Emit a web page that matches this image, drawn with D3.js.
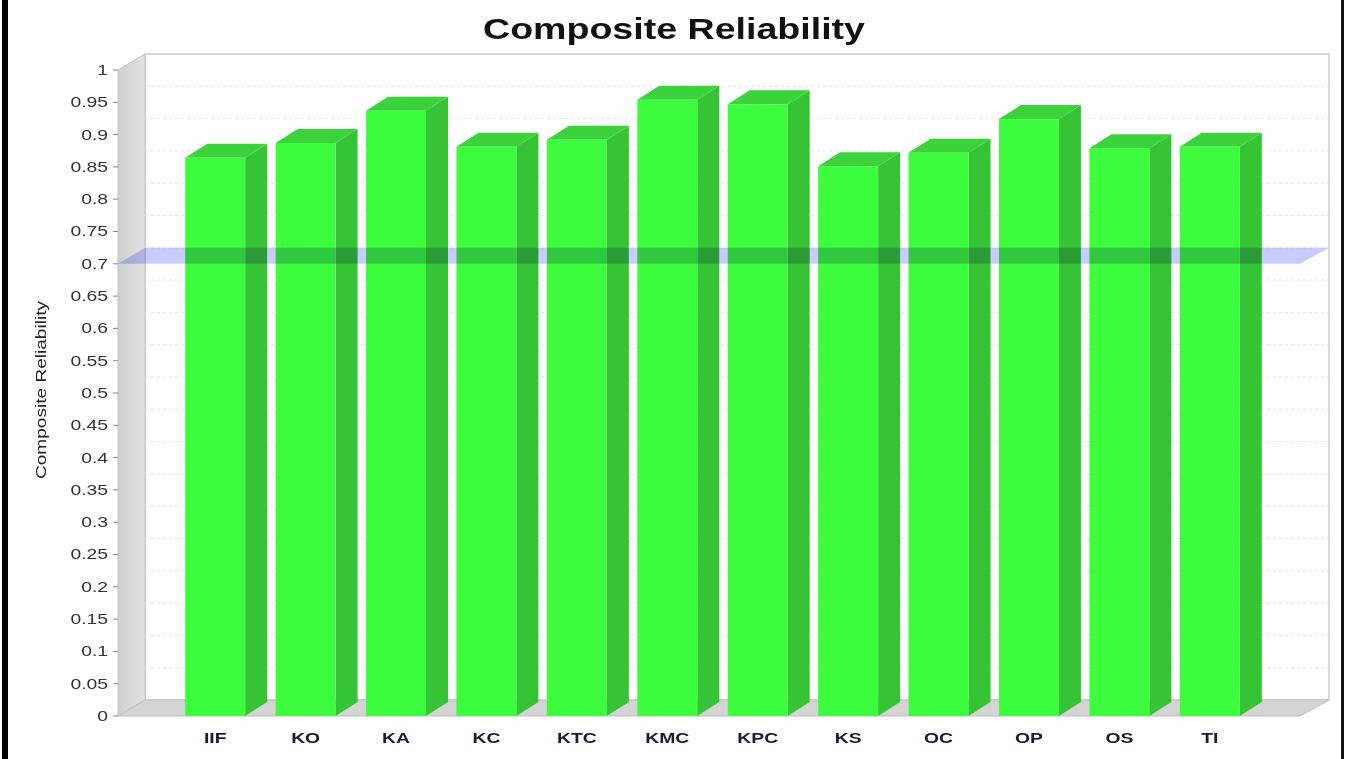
<!DOCTYPE html>
<html>
<head>
<meta charset="utf-8">
<script src="https://cdn.jsdelivr.net/npm/d3@7/dist/d3.min.js"></script>
<style>
  html, body { margin: 0; padding: 0; background: #ffffff; }
  svg { display: block; }
  text { font-family: "Liberation Sans", Arial, sans-serif; }
</style>
</head>
<body>
<svg id="chart" width="1350" height="759"></svg>
<script>
// Constructs and their composite reliability values
const constructs = ["IIF", "KO", "KA", "KC", "KTC", "KMC", "KPC", "KS", "OC", "OP", "OS", "TI"];
const reliability = [0.864, 0.887, 0.937, 0.881, 0.892, 0.954, 0.947, 0.851, 0.872, 0.924, 0.879, 0.881];
const yTicks = [0, 0.05, 0.1, 0.15, 0.2, 0.25, 0.3, 0.35, 0.4, 0.45, 0.5, 0.55, 0.6, 0.65, 0.7, 0.75, 0.8, 0.85, 0.9, 0.95, 1];
const threshold = [0.7];

const svg = d3.select("#chart");
const W = 1350, H = 759;

// front plane of the 3D plot
const axisX = 118, floorRight = 1300;
const wallDx = 27, wallDy = 16;   // depth of walls / floor
const barDx = 22, barDy = 14;     // depth of each bar
const stretch = 1.38;             // horizontal glyph stretch

const y = d3.scaleLinear().domain([0, 1]).range([716, 70]);
const x = d3.scaleBand().domain(constructs).range([140, 1285]).paddingInner(0.337).paddingOuter(0.5);

const y0 = y(0), yTop = y(1);
const backL = axisX + wallDx, backR = floorRight + wallDx + 2;

// back wall
svg.append("rect")
  .attr("x", backL).attr("y", yTop - wallDy)
  .attr("width", backR - backL).attr("height", y0 - yTop)
  .attr("fill", "#ffffff").attr("stroke", "#cccccc").attr("stroke-width", 1.5);

// left wall with soft gradient
const defs = svg.append("defs");
const lg = defs.append("linearGradient").attr("id", "wallGrad").attr("x1", "0").attr("x2", "1");
lg.append("stop").attr("offset", "0").attr("stop-color", "#cfcfcf");
lg.append("stop").attr("offset", "1").attr("stop-color", "#e2e2e2");

svg.append("polygon")
  .attr("points", [[axisX, yTop], [backL, yTop - wallDy], [backL, y0 - wallDy], [axisX, y0]].join(" "))
  .attr("fill", "url(#wallGrad)").attr("stroke", "#c4c4c4").attr("stroke-width", 1);

// floor
svg.append("polygon")
  .attr("points", [[axisX, y0], [backL, y0 - wallDy], [backR, y0 - wallDy], [floorRight, y0]].join(" "))
  .attr("fill", "#d4d4d4").attr("stroke", "#c0c0c0").attr("stroke-width", 1);

// gridlines on the back wall
svg.append("g").selectAll("line")
  .data(yTicks.filter(v => v > 0 && v < 1))
  .join("line")
  .attr("x1", backL).attr("x2", backR)
  .attr("y1", d => y(d) - wallDy).attr("y2", d => y(d) - wallDy)
  .attr("stroke", "#e4e4e4").attr("stroke-width", 1).attr("stroke-dasharray", "3,3");

// bars
const bars = svg.append("g").selectAll("g").data(constructs.map((c, i) => ({ c, v: reliability[i] }))).join("g");
const bw = x.bandwidth();

bars.append("polygon")   // side face
  .attr("points", d => {
    const xr = x(d.c) + bw, yt = y(d.v);
    return [[xr, yt], [xr + barDx, yt - barDy], [xr + barDx, y0 - barDy], [xr, y0]].join(" ");
  })
  .attr("fill", "#36c436");

bars.append("polygon")   // top face
  .attr("points", d => {
    const xl = x(d.c), yt = y(d.v);
    return [[xl, yt], [xl + barDx, yt - barDy], [xl + bw + barDx, yt - barDy], [xl + bw, yt]].join(" ");
  })
  .attr("fill", "#3bd23b");

bars.append("rect")      // front face
  .attr("x", d => x(d.c)).attr("y", d => y(d.v))
  .attr("width", bw).attr("height", d => y0 - y(d.v))
  .attr("fill", "#3dfb3d");

// threshold plane at 0.7
svg.append("g").selectAll("polygon").data(threshold).join("polygon")
  .attr("points", d => [[axisX, y(d)], [backL, y(d) - wallDy], [backR, y(d) - wallDy], [floorRight, y(d)]].join(" "))
  .attr("fill", "#b4baff")
  .attr("opacity", 0.75)
  .style("mix-blend-mode", "multiply");

// y axis ticks and labels
const yAxis = svg.append("g");
yAxis.selectAll("line").data(yTicks).join("line")
  .attr("x1", axisX - 5).attr("x2", axisX)
  .attr("y1", d => y(d)).attr("y2", d => y(d))
  .attr("stroke", "#888").attr("stroke-width", 1);
yAxis.selectAll("g.lbl").data(yTicks).join("g").attr("class", "lbl")
  .attr("transform", d => `translate(108,${y(d)}) scale(${stretch},1)`)
  .append("text")
  .attr("text-anchor", "end").attr("dy", "0.35em")
  .attr("font-size", 14).attr("fill", "#333")
  .text(d => String(+d.toFixed(2)));

// x labels
svg.append("g").selectAll("g").data(constructs).join("g")
  .attr("transform", d => `translate(${x(d) + bw / 2},743) scale(${stretch},1)`)
  .append("text")
  .attr("text-anchor", "middle")
  .attr("font-size", 14).attr("font-weight", "bold").attr("fill", "#1c1c38")
  .text(d => d);

// axis title
svg.append("text")
  .attr("transform", "translate(46,390) rotate(-90)")
  .attr("text-anchor", "middle")
  .attr("font-size", 15).attr("fill", "#222")
  .attr("textLength", 178).attr("lengthAdjust", "spacingAndGlyphs")
  .text("Composite Reliability");

// chart title
svg.append("text")
  .attr("x", 674).attr("y", 39)
  .attr("text-anchor", "middle")
  .attr("font-size", 29).attr("font-weight", "bold").attr("fill", "#111")
  .attr("textLength", 382).attr("lengthAdjust", "spacingAndGlyphs")
  .text("Composite Reliability");

// frame edges
svg.append("rect").attr("x", 2).attr("y", 0).attr("width", 6).attr("height", H).attr("fill", "#000");
svg.append("rect").attr("x", 1341).attr("y", 0).attr("width", 3).attr("height", H).attr("fill", "#111");
</script>
</body>
</html>
